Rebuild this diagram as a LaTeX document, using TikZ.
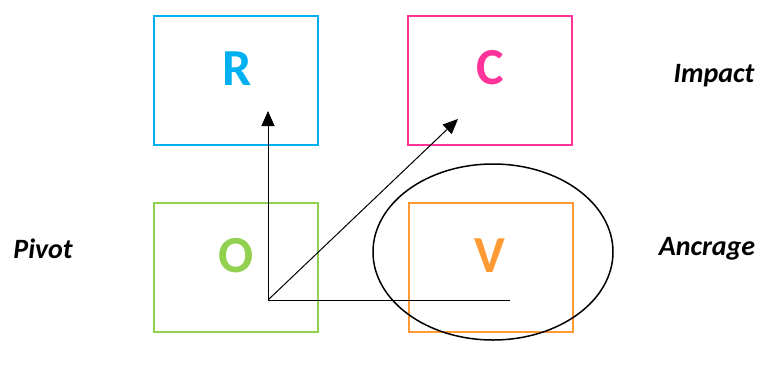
\documentclass[tikz,border=0pt]{standalone}
\usepackage{fontspec}
\setmainfont{Carlito}
\usetikzlibrary{arrows.meta}
\definecolor{cR}{HTML}{00B0F0}
\definecolor{cC}{HTML}{FF3399}
\definecolor{cO}{HTML}{92D050}
\definecolor{cV}{HTML}{FF9933}
\tikzset{
  box/.style={draw=#1, line width=2pt, minimum width=164pt, minimum height=129pt, inner sep=0pt},
  letter/.style={text=#1, font=\fontsize{52}{52}\selectfont\bfseries, inner sep=0pt},
  side/.style={font=\fontsize{28}{28}\selectfont\bfseries\itshape, inner sep=0pt},
  arr/.style={line width=1pt, -{Triangle[length=15pt,width=13pt]}},
}
\begin{document}
\begin{tikzpicture}[x=1pt,y=-1pt]
\useasboundingbox (0,0) rectangle (774,367);
\node[box=cR] (boxR) at (236,80.5) {};
\node[box=cC] (boxC) at (490,80) {};
\node[box=cO] (boxO) at (236,267) {};
\node[box=cV] (boxV) at (490.5,267) {};
\node[letter=cR] (R) at (237,69) {R};
\node[letter=cC] (C) at (490,68) {C};
\node[letter=cO] (O) at (236,256) {O};
\node[letter=cV] (V) at (490,256) {V};
\node[side] (impact) at (714,76) {Impact};
\node[side] (pivot) at (43,249) {Pivot};
\node[side] (ancrage) at (707,249) {Ancrage};
\draw[line width=1.5pt] (493,252) ellipse [x radius=120, y radius=88];
\coordinate (orig) at (268,300);
\coordinate (tipR) at (268,111);
\coordinate (tipC) at (458,119);
\coordinate (endV) at (510,300);
\draw[arr] (orig) -- (tipR);
\draw[arr] (orig) -- (tipC);
\draw[line width=1pt] (orig) -- (endV);
\end{tikzpicture}
\end{document}
